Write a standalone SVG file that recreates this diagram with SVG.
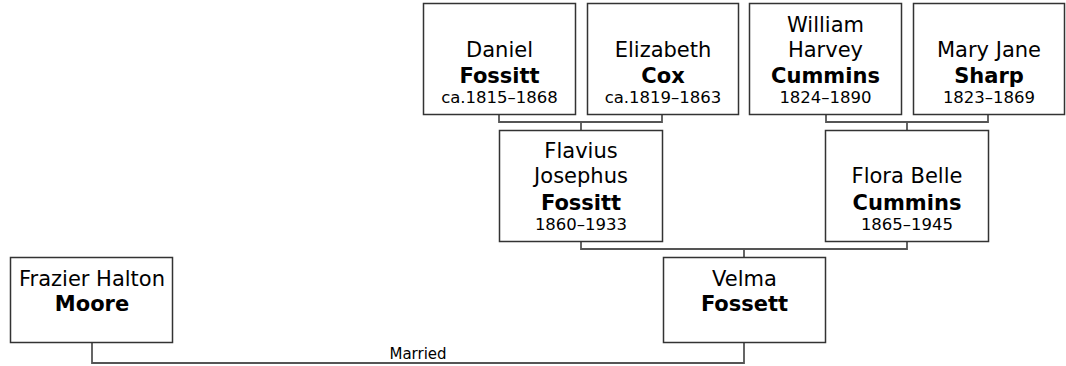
<svg xmlns="http://www.w3.org/2000/svg" width="1066" height="366" viewBox="0 0 1066 366">
<style>
.box{fill:#fff;stroke:#333;stroke-width:1.5}
.conn{fill:none;stroke:#555;stroke-width:1.8}
text{font-family:"DejaVu Sans","Verdana",sans-serif;text-anchor:middle;fill:#000}
.n{font-size:21px}
.s{font-size:21px;font-weight:bold}
.d{font-size:16.5px}
.lbl{font-size:15px}
</style>
<rect width="1066" height="366" fill="#fff"/>
<g id="connectors">
<polyline class="conn" points="499,114 499,122 662,122 662,114"/>
<line class="conn" x1="581" y1="122" x2="581" y2="130"/>
<polyline class="conn" points="826,114 826,122 988,122 988,114"/>
<line class="conn" x1="907" y1="122" x2="907" y2="130"/>
<polyline class="conn" points="581,242 581,249 907,249 907,242"/>
<line class="conn" x1="744" y1="249" x2="744" y2="257"/>
<polyline class="conn" points="92,342 92,363 744,363 744,342"/>
<text class="lbl" x="418" y="359">Married</text>
</g>
<g id="daniel">
<rect class="box" x="423.5" y="3.5" width="152" height="111"/>
<text class="n" x="499.5" y="57">Daniel</text>
<text class="s" x="499.5" y="83">Fossitt</text>
<text class="d" x="499.5" y="103">ca.1815–1868</text>
</g>
<g id="elizabeth">
<rect class="box" x="587.5" y="3.5" width="151" height="111"/>
<text class="n" x="663" y="57">Elizabeth</text>
<text class="s" x="663" y="83">Cox</text>
<text class="d" x="663" y="103">ca.1819–1863</text>
</g>
<g id="william">
<rect class="box" x="749.5" y="3.5" width="152" height="111"/>
<text class="n" x="825.5" y="32">William</text>
<text class="n" x="825.5" y="57">Harvey</text>
<text class="s" x="825.5" y="83">Cummins</text>
<text class="d" x="825.5" y="103">1824–1890</text>
</g>
<g id="mary">
<rect class="box" x="913.5" y="3.5" width="151" height="111"/>
<text class="n" x="989" y="57">Mary Jane</text>
<text class="s" x="989" y="83">Sharp</text>
<text class="d" x="989" y="103">1823–1869</text>
</g>
<g id="flavius">
<rect class="box" x="499.5" y="130.5" width="163" height="111"/>
<text class="n" x="581" y="158">Flavius</text>
<text class="n" x="581" y="183">Josephus</text>
<text class="s" x="581" y="210">Fossitt</text>
<text class="d" x="581" y="230">1860–1933</text>
</g>
<g id="flora">
<rect class="box" x="825.5" y="130.5" width="163" height="111"/>
<text class="n" x="907" y="183">Flora Belle</text>
<text class="s" x="907" y="210">Cummins</text>
<text class="d" x="907" y="230">1865–1945</text>
</g>
<g id="frazier">
<rect class="box" x="10.5" y="257.5" width="162" height="85"/>
<text class="n" x="92" y="286">Frazier Halton</text>
<text class="s" x="92" y="311">Moore</text>
</g>
<g id="velma">
<rect class="box" x="663.5" y="257.5" width="162" height="85"/>
<text class="n" x="744.5" y="286">Velma</text>
<text class="s" x="744.5" y="311">Fossett</text>
</g>
</svg>
